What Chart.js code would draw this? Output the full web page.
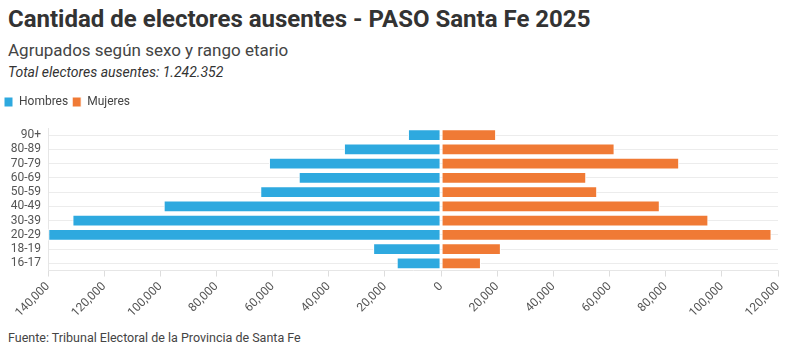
<!DOCTYPE html>
<html>
<head>
<meta charset="utf-8">
<script src="https://cdn.jsdelivr.net/npm/chart.js@4"></script>
<style>
  body { margin: 0; width: 797px; height: 350px; background: #fff; font-family: Roboto, sans-serif; color: #333; position: relative; overflow: hidden; }
  #titulo { position: absolute; left: 8px; top: 5px; font-size: 24px; font-weight: 700; color: #333; white-space: nowrap; }
  #sub { position: absolute; left: 8px; top: 40px; font-size: 17px; color: #444; white-space: nowrap; }
  #total { position: absolute; left: 8px; top: 64px; font-size: 14px; font-style: italic; color: #333; white-space: nowrap; }
  #fuente { position: absolute; left: 8px; top: 330px; font-size: 12.5px; color: #444; white-space: nowrap; }
  #wrap { position: absolute; left: 0; top: 92px; width: 797px; height: 231px; }
</style>
</head>
<body>
<div id="titulo">Cantidad de electores ausentes - PASO Santa Fe 2025</div>
<div id="sub">Agrupados según sexo y rango etario</div>
<div id="total">Total electores ausentes: 1.242.352</div>
<div id="wrap"><canvas id="chart"></canvas></div>
<div id="fuente">Fuente: Tribunal Electoral de la Provincia de Santa Fe</div>
<script>
// rangos etarios (de arriba hacia abajo)
const rangos = ['90+', '80-89', '70-79', '60-69', '50-59', '40-49', '30-39', '20-29', '18-19', '16-17'];
// valores
const hombres = [11800, 34600, 61300, 50700, 64400, 98800, 131300, 139900, 24200, 15800];
const mujeres = [19600, 61800, 84800, 51700, 55600, 77900, 95200, 117700, 21300, 14200];
const ejeMin = -140000, ejeMax = 120000, ejePaso = 20000;

const azul = '#2ea9df';
const naranja = '#f07a35';

const fmt = v => Math.abs(v).toLocaleString('en-US');

// espacio extra debajo de la leyenda
const margenLeyenda = {
    id: 'margenLeyenda',
    beforeInit(chart) {
        const fitOrig = chart.legend.fit;
        chart.legend.fit = function () {
            fitOrig.call(this);
            this.height += 10;
        };
    }
};

const ctx = document.getElementById('chart').getContext('2d');
const chart = new Chart(ctx, {
    type: 'bar',
    data: {
        labels: rangos,
        datasets: [
            { label: 'Hombres', data: hombres.map(v => -v), backgroundColor: azul, borderColor: '#fff', borderWidth: 1, borderSkipped: false },
            { label: 'Mujeres', data: mujeres, backgroundColor: naranja, borderColor: '#fff', borderWidth: 1, borderSkipped: false }
        ]
    },
    plugins: [margenLeyenda],
    options: {
        indexAxis: 'y',
        responsive: true,
        maintainAspectRatio: false,
        animation: false,
        datasets: { bar: { barPercentage: 0.9, categoryPercentage: 0.92 } },
        layout: { padding: { left: 0, right: 19, top: 0, bottom: 0 } },
        plugins: {
            legend: {
                position: 'top',
                align: 'start',
                labels: {
                    boxWidth: 9, boxHeight: 10, padding: 4,
                    color: '#444',
                    font: { family: 'Roboto', size: 12 }
                }
            },
            tooltip: {
                callbacks: { label: c => c.dataset.label + ': ' + fmt(c.raw) }
            }
        },
        scales: {
            x: {
                stacked: true,
                min: ejeMin,
                max: ejeMax,
                ticks: {
                    stepSize: ejePaso,
                    maxRotation: 45, minRotation: 45,
                    color: '#555',
                    font: { family: 'Roboto', size: 12 },
                    callback: v => fmt(v)
                },
                grid: { drawOnChartArea: false, tickLength: 6, color: '#ddd' },
                border: { display: true, color: '#e6e6e6' }
            },
            y: {
                stacked: true,
                afterFit: s => { s.width = 48; },
                ticks: { autoSkip: false, color: '#555', font: { family: 'Roboto', size: 12 }, padding: 7 },
                grid: { offset: false, drawTicks: false, color: '#ececec' },
                border: { display: true, color: '#e6e6e6' }
            }
        }
    }
});
</script>
</body>
</html>
